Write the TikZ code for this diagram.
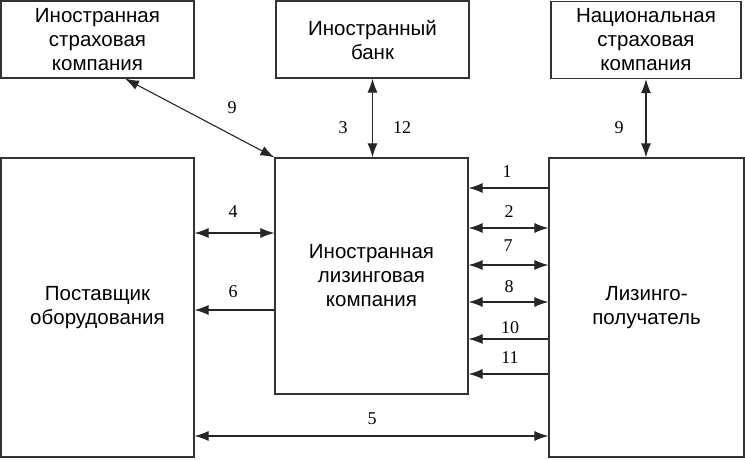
\documentclass[tikz,border=0pt]{standalone}
\usepackage{fontspec}
\setmainfont{Liberation Sans}
\newfontfamily\numfont{Liberation Serif}
\usetikzlibrary{arrows.meta}

\begin{document}
\begin{tikzpicture}[x=1pt,y=-1pt,
	box/.style={draw=black!80,line width=1.2pt,align=center,inner sep=0pt,font=\fontsize{20.5}{24}\selectfont},
	arr/.style={black!85,line width=1.1pt,-{Latex[length=14pt,width=10pt]}},
	darr/.style={black!85,line width=1.1pt,{Latex[length=14pt,width=10pt]}-{Latex[length=14pt,width=10pt]}},
	num/.style={inner sep=0pt,font=\numfont\fontsize{18}{18}\selectfont}]
	\useasboundingbox (0,0) rectangle (745,460);
	\node [box,minimum width=193pt,minimum height=77pt] (finsure) at (97.5,39.5) {Иностранная\\страховая\\компания};
	\node [box,minimum width=193pt,minimum height=77pt] (bank) at (372.5,39.5) {Иностранный\\банк};
	\node [box,minimum width=190pt,minimum height=77pt] (natins) at (646,40) {Национальная\\страховая\\компания};
	\node [box,minimum width=193pt,minimum height=299pt] (supplier) at (97.5,307.5) {Поставщик\\оборудования};
	\node [box,minimum width=193pt,minimum height=236pt] (lessor) at (371.5,276) {Иностранная\\лизинговая\\компания};
	\node [box,minimum width=195pt,minimum height=299pt] (lessee) at (646.5,307.5) {Лизинго-\\получатель};
	\draw [darr] (finsure.south -| 125,0) -- (lessor.north west);
	\draw [darr] (bank.south) -- (lessor.north -| bank.south);
	\draw [darr] (natins.south) -- (lessee.north -| natins.south);
	\draw [darr] (supplier.east |- 0,233) -- (lessor.west |- 0,233);
	\draw [arr] (lessor.west |- 0,310) -- (supplier.east |- 0,310);
	\draw [arr] (lessee.west |- 0,188) -- (lessor.east |- 0,188);
	\draw [darr] (lessor.east |- 0,228) -- (lessee.west |- 0,228);
	\draw [darr] (lessor.east |- 0,265) -- (lessee.west |- 0,265);
	\draw [darr] (lessor.east |- 0,302) -- (lessee.west |- 0,302);
	\draw [arr] (lessee.west |- 0,339) -- (lessor.east |- 0,339);
	\draw [arr] (lessee.west |- 0,374) -- (lessor.east |- 0,374);
	\draw [darr] (supplier.east |- 0,436) -- (lessee.west |- 0,436);
	\node [num] (l9a) at (232,108) {9};
	\node [num] (l3) at (343,128) {3};
	\node [num] (l12) at (402,128) {12};
	\node [num] (l9b) at (619,128) {9};
	\node [num] (l4) at (233,212) {4};
	\node [num] (l6) at (233,292) {6};
	\node [num] (l1) at (507,172) {1};
	\node [num] (l2) at (509,212) {2};
	\node [num] (l7) at (508,246) {7};
	\node [num] (l8) at (509,287) {8};
	\node [num] (l10) at (510,328) {10};
	\node [num] (l11) at (510,358) {11};
	\node [num] (l5) at (372,419) {5};
\end{tikzpicture}
\end{document}
